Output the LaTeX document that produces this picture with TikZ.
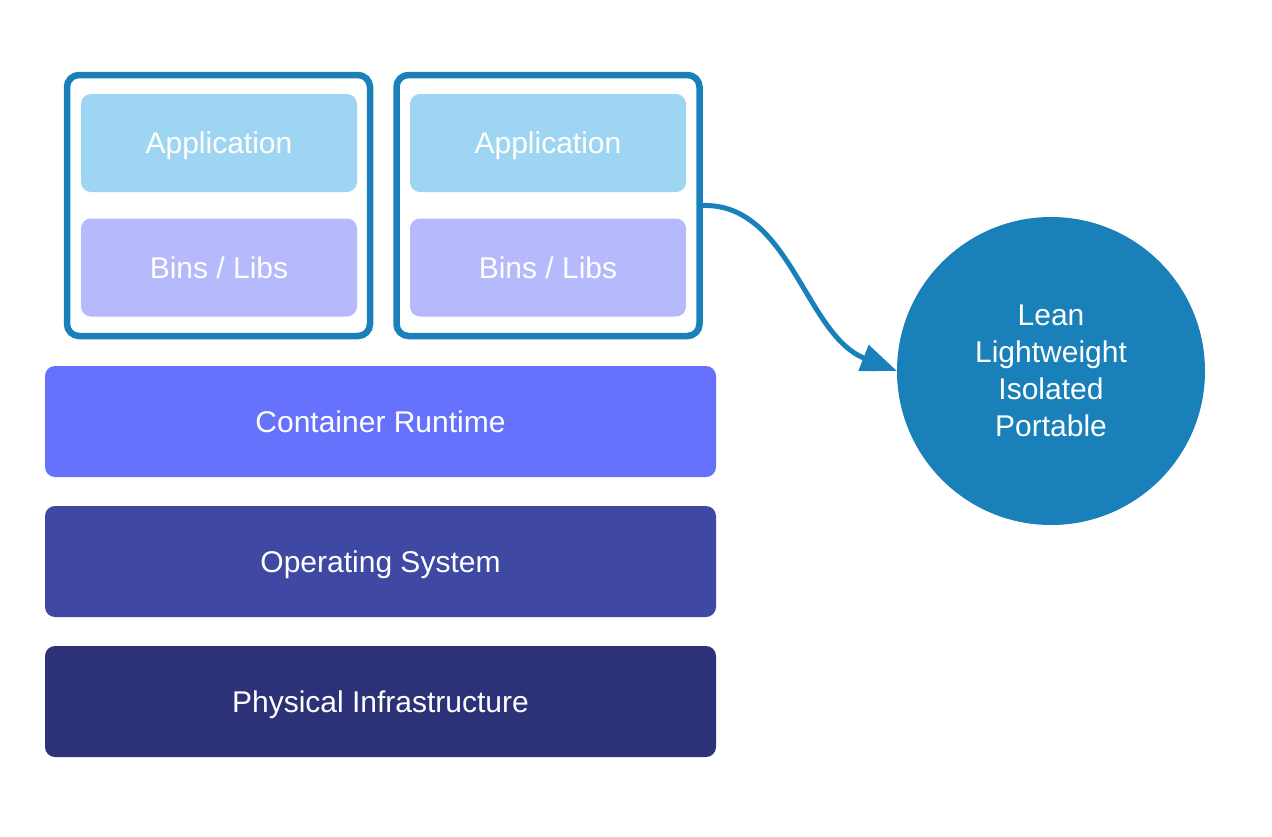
\documentclass[tikz,border=0pt]{standalone}
\usepackage{fontspec}
\setmainfont{Liberation Sans}
\usetikzlibrary{arrows.meta}
\definecolor{cblue}{HTML}{1A80B9}
\definecolor{appc}{HTML}{9ED5F2}
\definecolor{binc}{HTML}{B6B9FC}
\definecolor{crc}{HTML}{6672FB}
\definecolor{osc}{HTML}{3F49A3}
\definecolor{phc}{HTML}{2D3278}
\begin{document}
\begin{tikzpicture}[x=1pt,y=-1pt,
  every node/.style={inner sep=0pt,outer sep=0pt,font=\fontsize{30}{37}\selectfont,text=white},
  lbl/.style={text height=21.5pt,text depth=0pt},
  outerbox/.style={draw=cblue,line width=6.5pt,rounded corners=12pt,fill=white,minimum width=303pt,minimum height=261pt},
  innerbox/.style={lbl,rounded corners=10pt,minimum width=276pt,minimum height=98pt},
  layer/.style={lbl,rounded corners=10pt,minimum width=671pt,minimum height=111pt},
  conn/.style={draw=cblue,line width=5pt,-{Triangle[length=36pt,width=27pt]}}
]
\useasboundingbox (0,0) rectangle (1272,836);
\fill[white] (0,0) rectangle (1272,836);
% containers
\node[outerbox] (box1) at (218.5,205.5) {};
\node[outerbox] (box2) at (548,205.5) {};
\node[innerbox,fill=appc] (app1) at (219,143) {Application};
\node[innerbox,fill=binc] (bin1) at (219,267.5) {Bins / Libs};
\node[innerbox,fill=appc] (app2) at (548,143) {Application};
\node[innerbox,fill=binc] (bin2) at (548,267.5) {Bins / Libs};
% layers
\node[layer,fill=crc] (cr) at (380.5,421.5) {Container Runtime};
\node[layer,fill=osc] (os) at (380.5,561.5) {Operating System};
\node[layer,fill=phc] (ph) at (380.5,701.5) {Physical Infrastructure};
% circle
\node[circle,fill=cblue,minimum size=308pt,align=center] (circ) at (1051,371) {Lean\\Lightweight\\Isolated\\Portable};
% connector
\draw[conn] ([xshift=3pt]box2.east) .. controls (790,203) and (805,335) .. (circ.west);
\end{tikzpicture}
\end{document}
